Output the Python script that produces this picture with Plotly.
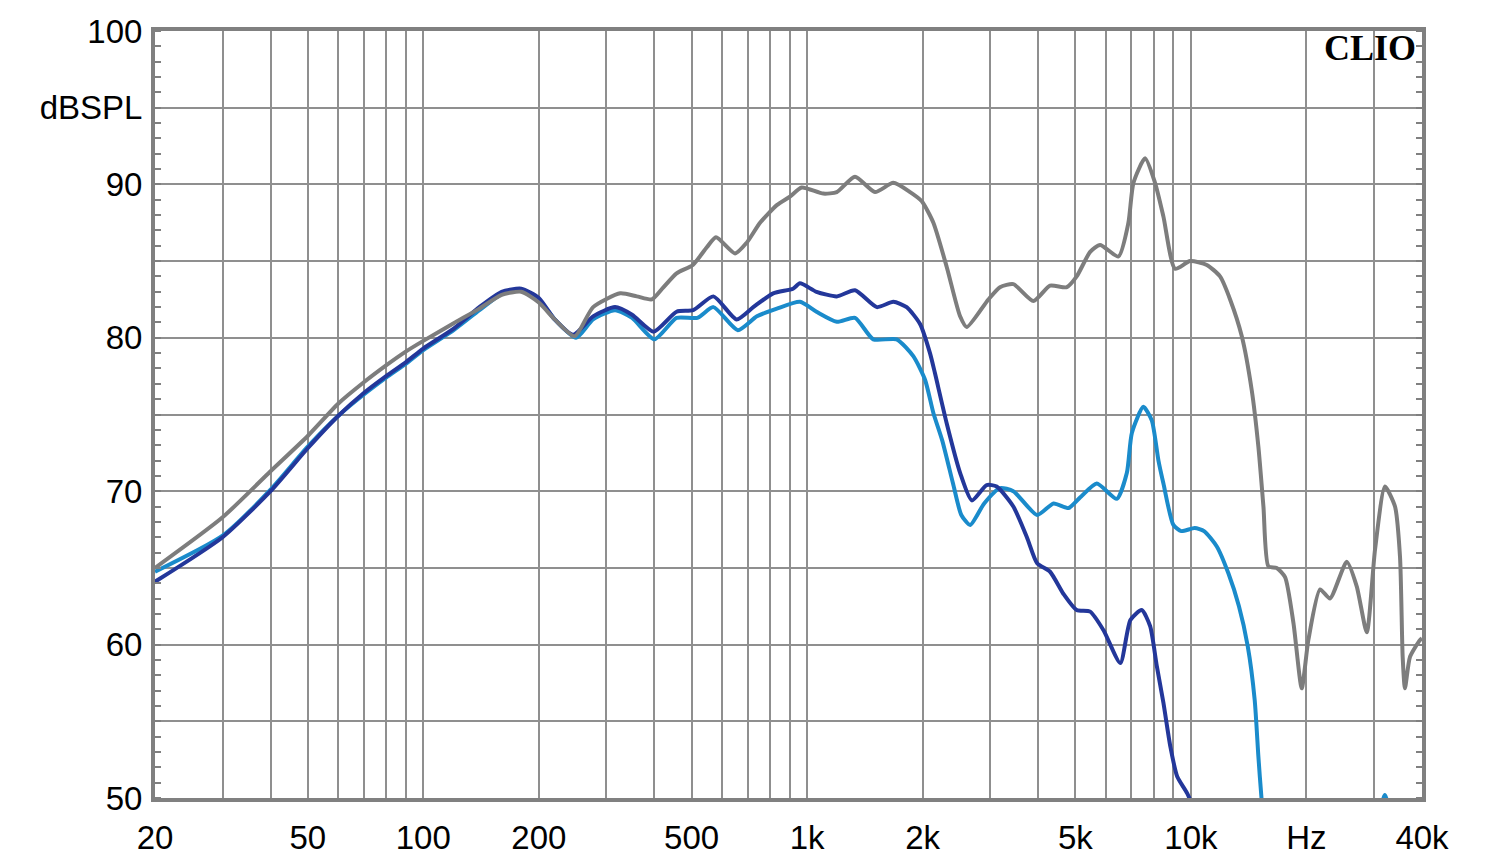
import plotly.graph_objects as go

# ---------------- data ----------------
gray_freq = [20, 30, 40, 50, 60, 70, 80, 90, 100, 120, 140, 160, 180, 200, 220, 248, 277, 326, 360, 394,
             421, 457, 504, 548, 579, 649, 696, 754, 834, 902, 968, 1102, 1195, 1333, 1503, 1677, 1855, 1990,
             2133, 2312, 2504, 2606, 2967, 3181, 3446, 3887, 4296, 4750, 5040, 5463, 5798, 6473, 6873, 7083,
             7596, 8063, 8480, 9093, 9950, 11000, 11910, 12650, 13570, 14400, 14990, 15450, 15920, 16730,
             17590, 18500, 19440, 20230, 21700, 23030, 25470, 27040, 28720, 30180, 32030, 34020, 35060,
             35620, 36110, 37220, 39530, 40000]
gray_db = [65.0, 68.3, 71.3, 73.6, 75.7, 77.1, 78.2, 79.1, 79.8, 80.95, 81.9, 82.8, 83.0, 82.3, 81.2, 80.1,
           82.0, 82.9, 82.7, 82.5, 83.25, 84.2, 84.75, 85.9, 86.55, 85.5, 86.2, 87.5, 88.65, 89.2, 89.8, 89.4,
           89.5, 90.5, 89.5, 90.1, 89.5, 88.9, 87.5, 84.6, 81.4, 80.7, 82.5, 83.3, 83.5, 82.4, 83.4, 83.3,
           84.0, 85.6, 86.05, 85.3, 87.5, 90.1, 91.7, 90.1, 87.9, 84.5, 85.0, 84.75, 84.0, 82.5, 80.1, 76.6,
           72.9, 69.0, 65.1, 65.0, 64.4, 61.4, 57.15, 60.3, 63.6, 63.0, 65.4, 63.8, 60.8, 66.2, 70.3, 69.0,
           65.7, 59.2, 57.15, 59.2, 60.3, 60.4]

dark_freq = [20, 30, 40, 50, 60, 70, 80, 90, 100, 120, 140, 160, 180, 200, 220, 246, 277, 316, 350, 398,
             457, 505, 570, 655, 724, 816, 919, 958, 1058, 1195, 1333, 1520, 1677, 1817, 1969, 2090, 2153,
             2312, 2504, 2687, 2937, 3119, 3446, 3738, 3975, 4296, 4656, 5040, 5463, 5915, 6548, 6955, 7446,
             7830, 8150, 8480, 8840, 9210, 9780, 10300]
dark_db = [64.1, 67.0, 70.0, 72.8, 74.9, 76.4, 77.5, 78.4, 79.3, 80.6, 82.0, 83.0, 83.2, 82.6, 81.2, 80.2,
           81.4, 82.0, 81.5, 80.4, 81.7, 81.8, 82.7, 81.2, 82.0, 82.9, 83.2, 83.55, 83.0, 82.7, 83.1, 82.0,
           82.35, 82.0, 80.9, 79.0, 77.7, 74.4, 71.2, 69.4, 70.4, 70.3, 69.0, 67.0, 65.3, 64.75, 63.3, 62.25,
           62.15, 60.95, 58.8, 61.6, 62.25, 61.2, 58.6, 56.2, 53.35, 51.4, 50.3, 49.0]

light_freq = [20, 30, 40, 50, 60, 70, 80, 90, 100, 120, 140, 160, 180, 200, 220, 250, 277, 316, 350, 400,
              457, 518, 570, 660, 740, 834, 958, 1058, 1195, 1333, 1487, 1711, 1891, 2030, 2133, 2250, 2400,
              2522, 2660, 2893, 3181, 3446, 3975, 4387, 4800, 5150, 5685, 6410, 6810, 7017, 7518, 7910, 8230,
              8480, 9000, 9440, 10230, 10820, 11680, 12520, 13340, 14060, 14660, 14990, 15270, 15500,
              None, 31300, 32000, 32700]
light_db = [64.75, 67.1, 70.1, 72.9, 74.9, 76.3, 77.4, 78.3, 79.2, 80.5, 81.8, 82.85, 83.1, 82.5, 81.2, 80.0,
            81.2, 81.8, 81.3, 79.9, 81.3, 81.3, 82.0, 80.5, 81.4, 81.9, 82.35, 81.7, 81.05, 81.3, 79.9, 79.9,
            78.8, 77.25, 75.1, 73.3, 70.5, 68.45, 67.8, 69.2, 70.2, 70.0, 68.45, 69.2, 68.9, 69.6, 70.5, 69.5,
            71.2, 73.8, 75.5, 74.6, 72.0, 70.5, 67.8, 67.4, 67.6, 67.4, 66.4, 64.65, 62.5, 59.9, 56.4, 52.7,
            50.0, 48.5, None, 49.4, 50.2, 49.5]

assert len(gray_freq) == len(gray_db)
assert len(dark_freq) == len(dark_db)
assert len(light_freq) == len(light_db)

x_grid = [20, 30, 40, 50, 60, 70, 80, 90, 100, 200, 300, 400, 500, 600, 700, 800, 900,
          1000, 2000, 3000, 4000, 5000, 6000, 7000, 8000, 9000, 10000, 20000, 30000, 40000]
x_labels = {20: "20", 50: "50", 100: "100", 200: "200", 500: "500", 1000: "1k", 2000: "2k",
            5000: "5k", 10000: "10k", 20000: "Hz", 40000: "40k"}
y_grid = [50, 55, 60, 65, 70, 75, 80, 85, 90, 95, 100]
y_labels = {50: "50", 60: "60", 70: "70", 80: "80", 90: "90", 95: "dBSPL", 100: "100"}

# ---------------- styling ----------------
FRAME = "#808080"
GRID = "#8f8f8f"
FONT = "Liberation Sans, Arial, sans-serif"

fig = go.Figure()
fig.add_trace(go.Scatter(x=light_freq, y=light_db, mode="lines", connectgaps=False,
                         line=dict(color="#1a8bcb", width=4, shape="spline", smoothing=0.6)))
fig.add_trace(go.Scatter(x=dark_freq, y=dark_db, mode="lines",
                         line=dict(color="#23379a", width=4, shape="spline", smoothing=0.6)))
fig.add_trace(go.Scatter(x=gray_freq, y=gray_db, mode="lines",
                         line=dict(color="#7d7d7d", width=4, shape="spline", smoothing=0.6)))

fig.update_layout(
    width=1500, height=864,
    margin=dict(l=155, r=78, t=31, b=66),
    paper_bgcolor="white", plot_bgcolor="white",
    showlegend=False,
    font=dict(family=FONT, size=33, color="black"),
    xaxis=dict(
        type="log", range=[1.30103, 4.60206],
        tickmode="array", tickvals=x_grid,
        ticktext=[x_labels.get(v, "") for v in x_grid],
        showgrid=True, gridcolor=GRID, gridwidth=1.5,
        showline=True, linecolor=FRAME, linewidth=4, mirror=True,
        ticks="", zeroline=False, ticklabelstandoff=7, automargin=False,
        tickfont=dict(family=FONT, size=33, color="black"),
    ),
    yaxis=dict(
        range=[50, 100],
        tickmode="array", tickvals=y_grid,
        ticktext=[y_labels.get(v, "") for v in y_grid],
        showgrid=True, gridcolor=GRID, gridwidth=1.5,
        showline=True, linecolor=FRAME, linewidth=4, mirror="allticks",
        ticks="", zeroline=False, ticklabelstandoff=2, automargin=False,
        minor=dict(dtick=1, tick0=50, ticks="inside", ticklen=6, tickwidth=1.5,
                   tickcolor=FRAME, showgrid=False),
        tickfont=dict(family=FONT, size=33, color="black"),
    ),
)

fig.add_annotation(
    text="<b>CLIO</b>", xref="paper", yref="paper", x=0.997, y=0.978,
    xanchor="right", yanchor="middle", showarrow=False,
    font=dict(family="Liberation Serif, Times New Roman, serif", size=36, color="black"),
)

fig.write_html("out.html")
